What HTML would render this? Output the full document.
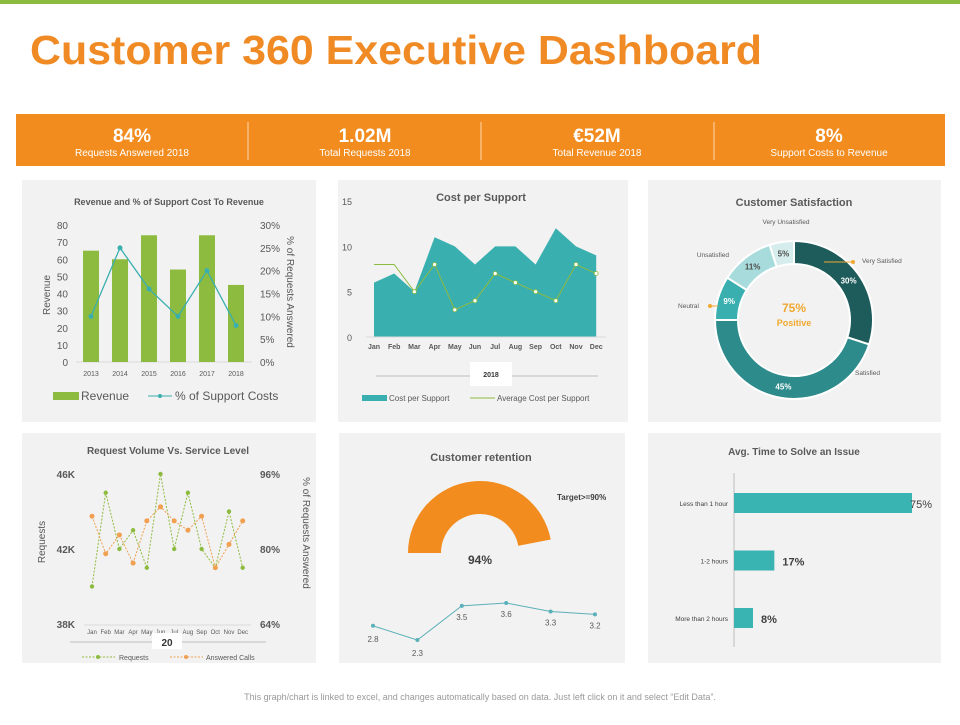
<!DOCTYPE html>
<html><head><meta charset="utf-8"><style>
body{margin:0;width:960px;height:720px;background:#fff;font-family:"Liberation Sans",sans-serif;overflow:hidden;position:relative}
svg text{font-family:"Liberation Sans",sans-serif}
</style></head><body>
<svg id="s" width="960" height="720" viewBox="0 0 960 720" xmlns="http://www.w3.org/2000/svg">
<rect x="0" y="0" width="960" height="4" fill="#8dbb3f"/>
<text x="30" y="64" font-size="41" font-weight="bold" fill="#f08a24" textLength="732" lengthAdjust="spacingAndGlyphs">Customer 360 Executive Dashboard</text>
<g>
<rect x="16" y="114" width="929" height="52" fill="#f28c1f"/>
<line x1="248" y1="122" x2="248" y2="160" stroke="#fcd9b0"/><line x1="481" y1="122" x2="481" y2="160" stroke="#fcd9b0"/><line x1="714" y1="122" x2="714" y2="160" stroke="#fcd9b0"/>
<g fill="#fff" text-anchor="middle">
<text x="132" y="142" font-size="19" font-weight="bold">84%</text>
<text x="132" y="156" font-size="10">Requests Answered 2018</text>
<text x="365" y="142" font-size="19" font-weight="bold">1.02M</text>
<text x="365" y="156" font-size="10">Total Requests 2018</text>
<text x="597" y="142" font-size="19" font-weight="bold">€52M</text>
<text x="597" y="156" font-size="10">Total Revenue 2018</text>
<text x="829" y="142" font-size="19" font-weight="bold">8%</text>
<text x="829" y="156" font-size="10">Support Costs to Revenue</text>
</g></g>
<rect x="22" y="180" width="294" height="242" fill="#f2f2f2"/>
<rect x="338" y="180" width="290" height="242" fill="#f2f2f2"/>
<rect x="648" y="180" width="293" height="242" fill="#f2f2f2"/>
<rect x="22" y="433" width="294" height="230" fill="#f2f2f2"/>
<rect x="339" y="433" width="286" height="230" fill="#f2f2f2"/>
<rect x="648" y="433" width="293" height="230" fill="#f2f2f2"/>
<text x="480" y="700" font-size="9" fill="#999" text-anchor="middle">This graph/chart is linked to excel, and changes automatically based on data. Just left click on it and select “Edit Data”.</text>
</svg>
<script>
const revYears=['2013','2014','2015','2016','2017','2018'];
const revValues=[65,60,74,54,74,45];
const supportPct=[10,25,16,10,20,8];
const revTicks=[0,10,20,30,40,50,60,70,80];
const pctTicks=[0,5,10,15,20,25,30];
const months=['Jan','Feb','Mar','Apr','May','Jun','Jul','Aug','Sep','Oct','Nov','Dec'];
const costValues=[6,7,5,11,10,8,10,10,8,12,10,9];
const avgCostValues=[8,8,5,8,3,4,7,6,5,4,8,7];
const costTicks=[0,5,10,15];
const satLabels=['Very Satisfied','Satisfied','Neutral','Unsatisfied','Very Unsatisfied'];
const satValues=[30,45,9,11,5];
const requestsK=[40,45,42,43,41,46,42,45,42,41,44,41];
const answeredPct=[87,79,83,77,86,89,86,84,87,76,81,86];
const reqTicks=['38K','42K','46K'];
const ansTicks=['64%','80%','96%'];
const retentionPct=94;
const retentionTrend=[2.8,2.3,3.5,3.6,3.3,3.2];
const solveLabels=['Less than 1 hour','1-2 hours','More than 2 hours'];
const solveValues=[75,17,8];

const S=document.getElementById('s');const NS='http://www.w3.org/2000/svg';
function el(t,a,txt){const e=document.createElementNS(NS,t);for(const k in a)e.setAttribute(k,a[k]);if(txt!=null)e.textContent=txt;S.appendChild(e);return e;}
function T(x,y,s,txt,o){return el('text',Object.assign({x:x,y:y,'font-size':s,fill:'#595959'},o||{}),txt);}

// Chart 1
let e;
e=T(169,205,9,'Revenue and % of Support Cost To Revenue',{'text-anchor':'middle','font-weight':'bold'});

const y1=v=>362-v*(137/80), yp=v=>362-v*(137/30), x1=i=>91+i*29;
revTicks.forEach(v=>{e=T(68,y1(v)+4,10,v,{'text-anchor':'end'});});
pctTicks.forEach(v=>{e=T(260,yp(v)+4,10,v+'%');});
el('line',{x1:76,y1:362,x2:252,y2:362,stroke:'#d9d9d9'});
revValues.forEach((v,i)=>{e=el('rect',{x:x1(i)-8,y:y1(v),width:16,height:362-y1(v),fill:'#8dbb3f'});
 e=T(x1(i),376,7,revYears[i],{'text-anchor':'middle'});});
e=el('polyline',{points:supportPct.map((v,i)=>x1(i)+','+yp(v)).join(' '),fill:'none',stroke:'#3aafaf','stroke-width':1.3});

supportPct.forEach((v,i)=>{e=el('circle',{cx:x1(i),cy:yp(v),r:2.5,fill:'#3aafaf'});});
e=T(50,295,10,'Revenue',{'text-anchor':'middle',transform:'rotate(-90 50 295)'});
e=T(287,292,10,'% of Requests Answered',{'text-anchor':'middle',transform:'rotate(90 287 292)'});
el('rect',{x:53,y:392,width:26,height:8,fill:'#8dbb3f'});
e=T(81,400,12,'Revenue');
el('line',{x1:148,y1:396,x2:172,y2:396,stroke:'#3aafaf'});el('circle',{cx:160,cy:396,r:2,fill:'#3aafaf'});
e=T(175,400,12,'% of Support Costs');

// Chart 2
e=T(481,201,11,'Cost per Support',{'text-anchor':'middle','font-weight':'bold'});
const y2=v=>337-v*(136/15), x2=i=>374+i*20.2;
costTicks.forEach(v=>{e=T(352,y2(v)+4,9,v,{'text-anchor':'end'});});
e=el('polygon',{points:x2(0)+',337 '+costValues.map((v,i)=>x2(i)+','+y2(v)).join(' ')+' '+x2(11)+',337',fill:'#3aafaf'});

el('line',{x1:366,y1:337,x2:606,y2:337,stroke:'#d9d9d9'});
e=el('polyline',{points:avgCostValues.map((v,i)=>x2(i)+','+y2(v)).join(' '),fill:'none',stroke:'#8dbb3f','stroke-width':1});

avgCostValues.forEach((v,i)=>{if(i<2)return;e=el('circle',{cx:x2(i),cy:y2(v),r:2,fill:'#fff',stroke:'#8dbb3f','stroke-width':0.8});});
months.forEach((m,i)=>{e=T(x2(i),349,7,m,{'text-anchor':'middle','font-weight':'bold'});});
el('line',{x1:376,y1:376,x2:598,y2:376,stroke:'#bfbfbf'});el('rect',{x:470,y:362,width:42,height:24,fill:'#fff'});
e=T(491,377,7,'2018',{'text-anchor':'middle','font-weight':'bold',fill:'#333'});
el('rect',{x:362,y:395,width:25,height:6,fill:'#3aafaf'});
e=T(389,401,8,'Cost per Support');
el('line',{x1:470,y1:398,x2:495,y2:398,stroke:'#8dbb3f'});
e=T(497,401,8,'Average Cost per Support');

// Chart 3 donut
e=T(794,206,11,'Customer Satisfaction',{'text-anchor':'middle','font-weight':'bold'});
const satColors=['#1e5c5c','#2e8b8b','#3aafaf','#a8dcdc','#d6eded'];
const cx=794,cy=320,R=79,r=56;let acc=0;const tot=satValues.reduce((a,b)=>a+b,0);
function pt(a,rad){return [cx+rad*Math.sin(a),cy-rad*Math.cos(a)];}
satValues.forEach((v,i)=>{const a0=acc/tot*2*Math.PI,a1=(acc+v)/tot*2*Math.PI;acc+=v;const lg=(a1-a0)>Math.PI?1:0;
 const p0=pt(a0,R),p1=pt(a1,R),q1=pt(a1,r),q0=pt(a0,r);
 e=el('path',{d:`M${p0} A${R},${R} 0 ${lg} 1 ${p1} L${q1} A${r},${r} 0 ${lg} 0 ${q0}Z`,fill:satColors[i],stroke:'#fff','stroke-width':2});
 
 const m=pt((a0+a1)/2,(R+r)/2);e=T(m[0],m[1]+3,8,v+'%',{'text-anchor':'middle','font-weight':'bold',fill:i<3?'#fff':'#4d4d4d'});
 });
e=T(794,312,12,'75%',{'text-anchor':'middle','font-weight':'bold',fill:'#f0a830'});
e=T(794,326,9,'Positive',{'text-anchor':'middle','font-weight':'bold',fill:'#f0a830'});
[[862,263,'Very Satisfied','start'],[855,375,'Satisfied','start'],[699,308,'Neutral','end'],[729,257,'Unsatisfied','end'],[786,224,'Very Unsatisfied','middle']].forEach(a=>{e=T(a[0],a[1],6.5,a[2],{'text-anchor':a[3]});});
el('line',{x1:824,y1:262,x2:853,y2:262,stroke:'#f0a830'});el('circle',{cx:853,cy:262,r:2,fill:'#f0a830'});
el('line',{x1:710,y1:306,x2:718,y2:306,stroke:'#f0a830'});el('circle',{cx:710,cy:306,r:2,fill:'#f0a830'});

// Chart 4
e=T(168,454,10,'Request  Volume Vs. Service Level',{'text-anchor':'middle','font-weight':'bold'});
const y4=v=>624-(v-38)*(150/8), y4p=v=>624-(v-64)*(150/32), x4=i=>92+i*13.7;
reqTicks.forEach((t,i)=>{e=T(75,624-i*75+4,10,t,{'text-anchor':'end','font-weight':'bold'});});
ansTicks.forEach((t,i)=>{e=T(260,624-i*75+4,10,t,{'font-weight':'bold'});});
el('line',{x1:84,y1:625,x2:251,y2:625,stroke:'#d9d9d9'});
e=el('polyline',{points:requestsK.map((v,i)=>x4(i)+','+y4(v)).join(' '),fill:'none',stroke:'#8dbb3f','stroke-dasharray':'2,1.5'});
e=el('polyline',{points:answeredPct.map((v,i)=>x4(i)+','+y4p(v)).join(' '),fill:'none',stroke:'#f0a050','stroke-dasharray':'2,1.5'});
requestsK.forEach((v,i)=>{e=el('circle',{cx:x4(i),cy:y4(v),r:2.2,fill:'#8dbb3f'});});
answeredPct.forEach((v,i)=>{e=el('circle',{cx:x4(i),cy:y4p(v),r:2.5,fill:'#f0a050'});});
months.forEach((m,i)=>{e=T(x4(i),634,6,m,{'text-anchor':'middle'});});
el('line',{x1:70,y1:642,x2:266,y2:642,stroke:'#bfbfbf'});el('rect',{x:152,y:633,width:30,height:16,fill:'#fff'});
e=T(167,646,10,'20',{'text-anchor':'middle','font-weight':'bold',fill:'#333'});
e=T(45,542,10,'Requests',{'text-anchor':'middle',transform:'rotate(-90 45 542)'});
e=T(303,533,10,'% of Requests Answered',{'text-anchor':'middle',transform:'rotate(90 303 533)'});
el('line',{x1:82,y1:657,x2:115,y2:657,stroke:'#8dbb3f','stroke-dasharray':'2,1.5'});el('circle',{cx:98,cy:657,r:2,fill:'#8dbb3f'});
e=T(119,660,7,'Requests');
el('line',{x1:170,y1:657,x2:203,y2:657,stroke:'#f0a050','stroke-dasharray':'2,1.5'});el('circle',{cx:186,cy:657,r:2,fill:'#f0a050'});
e=T(206,660,7,'Answered Calls');

// Chart 5 gauge
e=T(481,461,11,'Customer  retention',{'text-anchor':'middle','font-weight':'bold'});
const gx=480,gy=553,GR=72,gr=39;
function gp(f,rad){const a=Math.PI*(1-f);return [gx+rad*Math.cos(a),gy-rad*Math.sin(a)];}
const f=retentionPct/100;
e=el('path',{d:`M${gp(0,GR)} A${GR},${GR} 0 0 1 ${gp(f,GR)} L${gp(f,gr)} A${gr},${gr} 0 0 0 ${gp(0,gr)}Z`,fill:'#f28c1f'});
e=el('path',{d:`M${gp(f,GR)} L${gx},${gy} L${gp(f,gr)}Z`,fill:'#f5b830'});
e=T(480,564,12,retentionPct+'%',{'text-anchor':'middle','font-weight':'bold',fill:'#404040'});
e=T(557,500,8,'Target>=90%',{'font-weight':'bold',fill:'#404040'});
const x5=i=>373+i*44.4, y5=v=>603+(3.6-v)*28.5;
e=el('polyline',{points:retentionTrend.map((v,i)=>x5(i)+','+y5(v)).join(' '),fill:'none',stroke:'#5ab0b8','stroke-width':1});
retentionTrend.forEach((v,i)=>{e=el('circle',{cx:x5(i),cy:y5(v),r:2,fill:'#5ab0b8'});
 e=T(x5(i),y5(v)+(i<2?16:14),8,v.toFixed(1),{'text-anchor':'middle'});});

// Chart 6
e=T(794,455,10,'Avg. Time to Solve  an Issue',{'text-anchor':'middle','font-weight':'bold'});
el('line',{x1:734,y1:473,x2:734,y2:647,stroke:'#bfbfbf'});
const xs=v=>v*(178/75);
solveValues.forEach((v,i)=>{const yy=493+i*57.5;
 e=el('rect',{x:734,y:yy,width:xs(v),height:20,fill:'#3ab3b3'});
 e=T(728,yy+13,6.5,solveLabels[i],{'text-anchor':'end',fill:'#404040'});
 e=T(i==0?734+xs(v)-2:734+xs(v)+8,yy+15,11,v+'%',{'font-weight':i?'bold':'normal',fill:'#404040'});});
</script>
</body></html>
